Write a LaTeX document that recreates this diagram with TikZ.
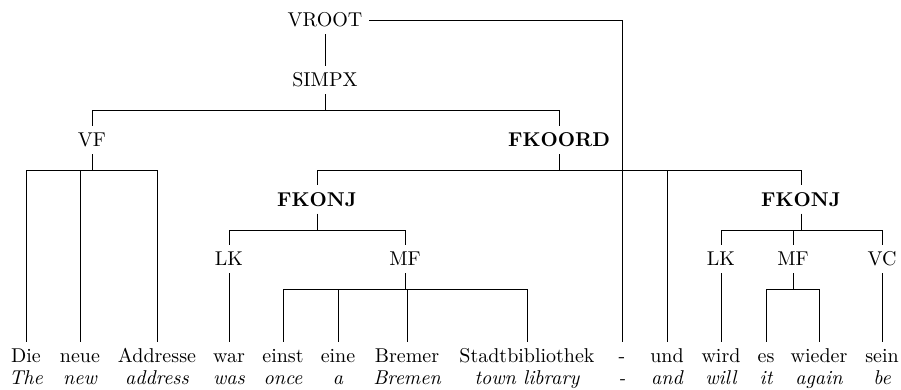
\documentclass[tikz,border=0pt]{standalone}
\begin{document}
\begin{tikzpicture}[x=0.5pt,y=-0.5pt,
  cat/.style={inner sep=3.33pt,text height=7pt,text depth=0pt},
  bcat/.style={cat,font=\bfseries},
  word/.style={cat},
  gloss/.style={cat,font=\itshape},
  edge/.style={line width=0.4pt}]
\useasboundingbox (0,0) rectangle (901,390);

% phrase labels
\node[cat]  (vroot)  at (325,20)  {VROOT};
\node[cat]  (simpx)  at (325,80)  {SIMPX};
\node[cat]  (vf)     at (92,140)  {VF};
\node[bcat] (fkoord) at (559,140) {FKOORD};
\node[bcat] (kA)     at (317,199.5) {FKONJ};
\node[bcat] (kB)     at (801,199.5) {FKONJ};
\node[cat]  (lkA)    at (229,259) {LK};
\node[cat]  (mfA)    at (405,259) {MF};
\node[cat]  (lkB)    at (721,259) {LK};
\node[cat]  (mfB)    at (793,259) {MF};
\node[cat]  (vcB)    at (882,259) {VC};

% words and glosses
\foreach \n/\x/\w/\g in {
  w1/26/Die/The, w2/80/neue/new, w3/157/Addresse/address,
  w4/229/war/was, w5/283/einst/once, w6/338/eine/a,
  w7/407/Bremer/Bremen, w8/527/Stadtbibliothek/town library,
  w9/622/-/-, w10/667/und/and, w11/721/wird/will, w12/766/es/it,
  w13/819/wieder/again, w14/882/sein/be}{
  \node[word]  (\n)  at (\x,355.7) {\w};
  \node[gloss] (g\n) at (\x,378)   {\g};
}

% bar heights
\coordinate (yS)  at (0,110);
\coordinate (yVF) at (0,170);
\coordinate (yK)  at (0,230);
\coordinate (yM)  at (0,289);

\begin{scope}[edge]
\draw (vroot.south) -- (simpx.north);
\draw (vroot.east) -| (w9.north);

\draw (simpx.south) -- (simpx.south |- yS);
\foreach \c in {vf,fkoord}
  \draw (simpx.south |- yS) -| (\c.north);

\draw (vf.south) -- (vf.south |- yVF);
\foreach \c in {w1,w2,w3}
  \draw (vf.south |- yVF) -| (\c.north);

\draw (fkoord.south) -- (fkoord.south |- yVF);
\foreach \c in {kA,w10,kB}
  \draw (fkoord.south |- yVF) -| (\c.north);

\draw (kA.south) -- (kA.south |- yK);
\foreach \c in {lkA,mfA}
  \draw (kA.south |- yK) -| (\c.north);
\draw (lkA.south) -- (w4.north);
\draw (mfA.south) -- (mfA.south |- yM);
\foreach \c in {w5,w6,w7,w8}
  \draw (mfA.south |- yM) -| (\c.north);

\draw (kB.south) -- (kB.south |- yK);
\foreach \c in {lkB,mfB,vcB}
  \draw (kB.south |- yK) -| (\c.north);
\draw (lkB.south) -- (w11.north);
\draw (vcB.south) -- (w14.north);
\draw (mfB.south) -- (mfB.south |- yM);
\foreach \c in {w12,w13}
  \draw (mfB.south |- yM) -| (\c.north);
\end{scope}
\end{tikzpicture}
\end{document}
